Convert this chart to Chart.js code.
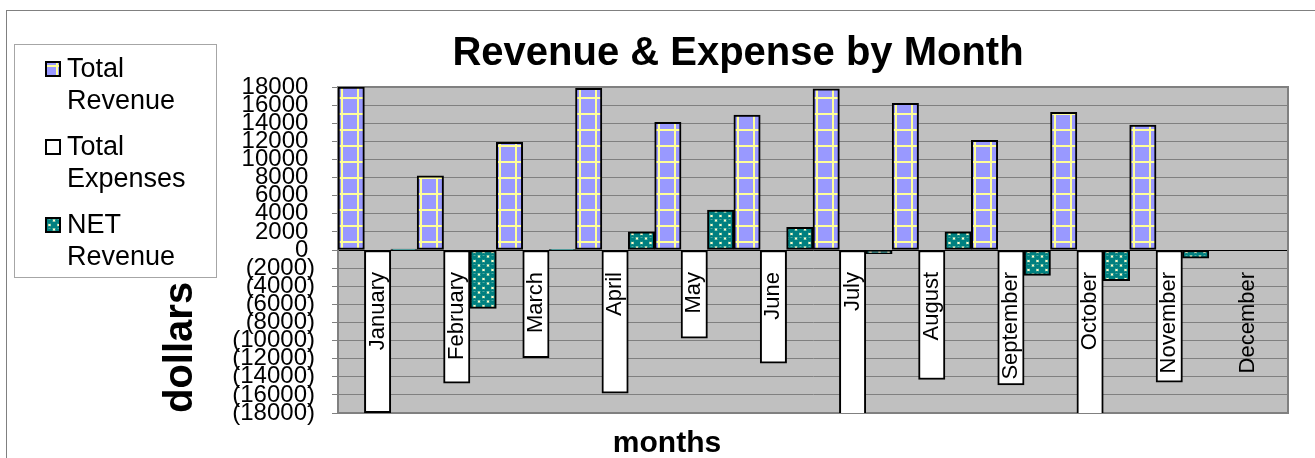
<!DOCTYPE html>
<html>
<head>
<meta charset="utf-8">
<title>Revenue &amp; Expense by Month</title>
<script src="https://cdn.jsdelivr.net/npm/chart.js@4.4.1/dist/chart.umd.min.js"></script>
<style>
  html, body { margin: 0; padding: 0; background: #fff; }
  canvas { display: block; }
</style>
</head>
<body>
<canvas id="chart" width="1315" height="458"></canvas>
<script>
const months = ['January', 'February', 'March', 'April', 'May', 'June',
  'July', 'August', 'September', 'October', 'November', 'December'];
const totalRevenue = [18000, 8200, 11900, 17850, 14100, 14900, 17800, 16200, 12100, 15200, 13800, null];
const totalExpenses = [-17950, -14700, -11900, -15800, -9750, -12500, -18200, -14300, -14900, -18600, -14600, null];
const netRevenue = [100, -6450, 80, 2000, 4400, 2500, -400, 2000, -2800, -3400, -900, null];
const seriesNames = ['Total Revenue', 'Total Expenses', 'NET Revenue'];
const yMin = -18000;
const yMax = 18000;
const yStep = 2000;

const FONT = "'Liberation Sans', Arial, sans-serif";
const canvas = document.getElementById('chart');
const ctx = canvas.getContext('2d');

// small tiles used as fill patterns (Excel style hatches)
function makeTile(w, h, paint) {
  const c = document.createElement('canvas');
  c.width = w;
  c.height = h;
  paint(c.getContext('2d'));
  return c;
}

const gridTile = makeTile(16, 16, g => {
  g.fillStyle = '#9999FF';
  g.fillRect(0, 0, 16, 16);
  g.fillStyle = '#FFFF99';
  g.fillRect(3, 0, 2, 16);
  g.fillRect(0, 1, 16, 2);
});

const checkerTile = makeTile(9, 9, g => {
  g.fillStyle = '#FFFFCC';
  g.fillRect(0, 0, 9, 9);
  g.fillStyle = '#008080';
  [[0, 0], [9, 0], [0, 9], [9, 9], [4.5, 4.5]].forEach(([cx, cy]) => {
    g.beginPath();
    g.arc(cx, cy, 3.4, 0, Math.PI * 2);
    g.fill();
  });
  g.fillStyle = '#4FA8A0';
  g.fillRect(3.5, 3, 2, 1);
});

function patternAt(tile, x) {
  const pat = ctx.createPattern(tile, 'repeat');
  pat.setTransform(new DOMMatrix().translate(x, 0));
  return pat;
}

// pattern anchored to the left edge of each bar
function barFill(tile) {
  return function(c) {
    const xs = c.chart.scales.x;
    if (!xs || c.dataIndex === undefined) {
      return patternAt(tile, 0);
    }
    const w = xs.width / months.length / 3;
    const left = xs.getPixelForValue(c.dataIndex) + (c.datasetIndex - 1.5) * w;
    return patternAt(tile, Math.round(left));
  };
}

const legendFills = [
  x => patternAt(gridTile, x - 8),
  () => '#FFFFFF',
  x => patternAt(checkerTile, x)
];

const pagePlugin = {
  id: 'page',
  beforeDraw(chart) {
    const g = chart.ctx;
    const a = chart.chartArea;
    g.save();
    g.fillStyle = '#FFFFFF';
    g.fillRect(0, 0, chart.width, chart.height);
    g.strokeStyle = '#808080';
    g.lineWidth = 1;
    g.strokeRect(6.5, 10.5, chart.width + 20, chart.height + 20);
    g.fillStyle = '#C0C0C0';
    g.fillRect(a.left, a.top, a.right - a.left, a.bottom - a.top);
    g.restore();
  },
  beforeDatasetsDraw(chart) {
    const g = chart.ctx;
    const a = chart.chartArea;
    g.save();
    g.strokeStyle = '#808080';
    g.lineWidth = 2;
    g.strokeRect(a.left, a.top, a.right - a.left, a.bottom - a.top);
    g.restore();
  },
  afterDraw(chart) {
    const g = chart.ctx;
    g.save();
    // legend box
    g.fillStyle = '#FFFFFF';
    g.strokeStyle = '#A6A6A6';
    g.lineWidth = 1;
    g.fillRect(14.5, 44.5, 202, 233);
    g.strokeRect(14.5, 44.5, 202, 233);
    chart.data.datasets.forEach((ds, i) => {
      const top = 61 + i * 78;
      g.fillStyle = legendFills[i](45);
      g.fillRect(45, top, 16, 16);
      g.strokeStyle = '#000';
      g.lineWidth = 2;
      g.strokeRect(46, top + 1, 14, 14);
      g.fillStyle = '#000';
      g.font = '27px ' + FONT;
      g.textAlign = 'left';
      g.textBaseline = 'alphabetic';
      ds.label.split(' ').forEach((word, j) => {
        g.fillText(word, 67, top + 16 + j * 31.5);
      });
    });
    // x axis title
    g.font = 'bold 30px ' + FONT;
    g.textAlign = 'center';
    g.fillText('months', 667, 452);
    g.restore();
  }
};

new Chart(ctx, {
  type: 'bar',
  data: {
    labels: months,
    datasets: [
      {
        label: seriesNames[0],
        data: totalRevenue,
        backgroundColor: barFill(gridTile)
      },
      {
        label: seriesNames[1],
        data: totalExpenses,
        backgroundColor: '#FFFFFF'
      },
      {
        label: seriesNames[2],
        data: netRevenue,
        backgroundColor: barFill(checkerTile)
      }
    ]
  },
  options: {
    responsive: false,
    devicePixelRatio: 1,
    animation: false,
    layout: {
      padding: { left: 188, right: 27, top: 20, bottom: 45 }
    },
    datasets: {
      bar: {
        categoryPercentage: 1,
        barPercentage: 1,
        borderColor: '#000000',
        borderWidth: 2,
        borderSkipped: false
      }
    },
    plugins: {
      legend: { display: false },
      tooltip: { enabled: false },
      title: {
        display: true,
        text: 'Revenue & Expense by Month',
        color: '#000',
        font: { family: FONT, size: 40, weight: 'bold' },
        padding: { top: 10, bottom: 9 }
      }
    },
    scales: {
      x: {
        position: { y: 0 },
        offset: true,
        grid: { display: false },
        border: { display: true, color: '#000000', width: 1 },
        ticks: {
          z: 1,
          autoSkip: false,
          minRotation: 90,
          maxRotation: 90,
          padding: 14,
          color: '#000',
          font: { family: FONT, size: 22 }
        }
      },
      y: {
        min: yMin,
        max: yMax,
        afterFit(scale) {
          scale.width = 150;
        },
        grid: {
          color: '#808080',
          lineWidth: 1,
          tickLength: 6
        },
        border: { color: '#808080', width: 2 },
        ticks: {
          stepSize: yStep,
          autoSkip: false,
          padding: 17,
          color: '#000',
          font: { family: FONT, size: 24 },
          callback: function(value) {
            return value < 0 ? '(' + (-value) + ')' : value + ' ';
          }
        },
        title: {
          display: true,
          text: 'dollars',
          align: 'start',
          color: '#000',
          font: { family: FONT, size: 40, weight: 'bold' },
          padding: { top: -31, bottom: 0 }
        }
      }
    }
  },
  plugins: [pagePlugin]
});
</script>
</body>
</html>
